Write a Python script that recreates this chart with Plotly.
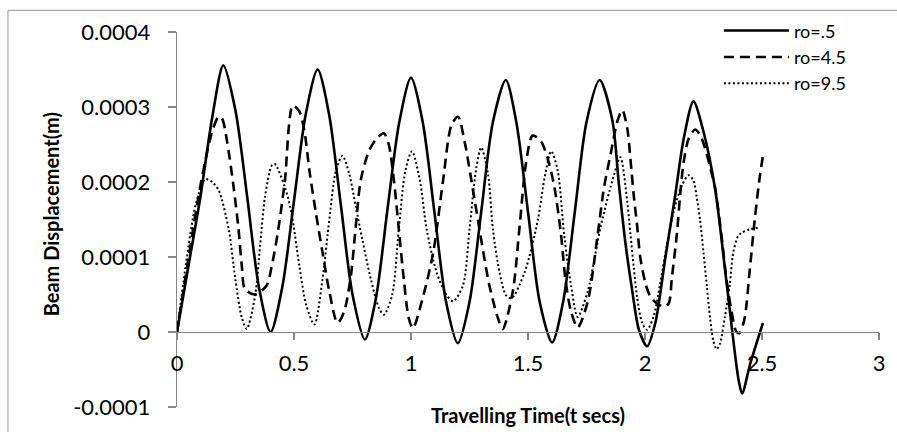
import plotly.graph_objects as go

# ---------------- data (values in 1e-4 m) ----------------
t_ro05 = [0, 0.05, 0.1, 0.15, 0.198, 0.25, 0.3, 0.35, 0.4, 0.45, 0.5, 0.55, 0.601,
          0.65, 0.7, 0.75, 0.803, 0.85, 0.9, 0.95, 1.0, 1.05, 1.1, 1.15, 1.2, 1.25,
          1.3, 1.35, 1.405, 1.45, 1.5, 1.55, 1.603, 1.65, 1.7, 1.75, 1.806, 1.86,
          1.889, 1.917, 1.945, 1.974, 2.009, 2.044, 2.087, 2.129, 2.165, 2.207,
          2.25, 2.3, 2.35, 2.4, 2.415, 2.45, 2.504]
y_ro05 = [0, 0.9, 1.8, 2.85, 3.555, 2.95, 1.8, 0.6, 0.0, 0.6, 1.75, 2.9, 3.5,
          2.9, 1.7, 0.5, -0.1, 0.45, 1.65, 2.8, 3.39, 2.8, 1.6, 0.4, -0.15, 0.4,
          1.6, 2.8, 3.36, 2.8, 1.6, 0.4, -0.14, 0.4, 1.6, 2.8, 3.36, 2.83,
          1.95, 1.17, 0.56, 0.03, -0.19, 0.12, 0.99, 1.82, 2.57, 3.075,
          2.67, 1.9, 0.62, -0.64, -0.82, -0.42, 0.12]

t_ro45 = [0, 0.05, 0.1, 0.15, 0.178, 0.192, 0.214, 0.242, 0.263, 0.277, 0.291,
          0.334, 0.383, 0.405, 0.433, 0.461, 0.495, 0.523, 0.545, 0.566, 0.594,
          0.622, 0.651, 0.686, 0.714, 0.743, 0.764, 0.785, 0.82, 0.856, 0.884,
          0.905, 0.927, 0.948, 0.969, 0.99, 1.008, 1.053, 1.095, 1.137, 1.173,
          1.201, 1.229, 1.265, 1.3, 1.335, 1.371, 1.392, 1.435, 1.463, 1.491,
          1.52, 1.556, 1.585, 1.613, 1.641, 1.66, 1.684, 1.712, 1.755, 1.797,
          1.825, 1.853, 1.882, 1.903, 1.924, 1.938, 1.952, 1.966, 1.98, 2.002,
          2.023, 2.051, 2.08, 2.101, 2.115, 2.136, 2.15, 2.165, 2.186, 2.214,
          2.235, 2.256, 2.278, 2.299, 2.327, 2.348, 2.37, 2.391, 2.405, 2.426,
          2.448, 2.469, 2.49, 2.504]
y_ro45 = [0, 1.0, 1.95, 2.67, 2.87, 2.85, 2.54, 1.93, 1.37, 0.88, 0.57,
          0.5, 0.62, 0.88, 1.37, 2.02, 3.02, 2.94, 2.67, 2.15, 1.58,
          1.06, 0.54, 0.12, 0.27, 0.75, 1.41, 2.02, 2.41, 2.59, 2.65,
          2.5, 2.02, 1.37, 0.71, 0.19, 0.05, 0.49, 1.06, 2.02, 2.76,
          2.87, 2.54, 1.89, 1.23, 0.62, 0.19, 0.04, 0.54, 1.37, 2.24,
          2.62, 2.54, 2.3, 1.93, 1.3, 0.7, 0.27, 0.06, 0.4, 1.28,
          1.93, 2.37, 2.81, 2.96, 2.72, 2.3, 1.82, 1.43, 0.99, 0.65,
          0.47, 0.38, 0.34, 0.38, 0.73, 1.3, 1.82, 2.26, 2.57, 2.7,
          2.63, 2.46, 2.2, 1.93, 1.28, 0.71, 0.27, 0.0, -0.01, 0.19,
          0.84, 1.5, 2.06, 2.35]

t_ro95 = [0, 0.037, 0.08, 0.121, 0.15, 0.178, 0.221, 0.249, 0.277, 0.298, 0.334,
          0.355, 0.376, 0.405, 0.418, 0.461, 0.489, 0.523, 0.552, 0.587, 0.622,
          0.651, 0.679, 0.707, 0.736, 0.764, 0.792, 0.828, 0.863, 0.884, 0.919,
          0.948, 0.976, 1.004, 1.038, 1.067, 1.109, 1.152, 1.18, 1.222, 1.25,
          1.279, 1.3, 1.329, 1.35, 1.378, 1.406, 1.43, 1.486, 1.542, 1.571,
          1.599, 1.627, 1.655, 1.684, 1.712, 1.755, 1.811, 1.868, 1.895, 1.924,
          1.938, 1.952, 1.966, 1.988, 2.009, 2.037, 2.065, 2.094, 2.122, 2.157,
          2.186, 2.207, 2.221, 2.235, 2.25, 2.264, 2.278, 2.292, 2.306, 2.32,
          2.341, 2.362, 2.377, 2.398, 2.412, 2.448, 2.49]
y_ro95 = [0, 0.88, 1.7, 2.04, 2.0, 1.89, 1.37, 0.71, 0.19, 0.04, 0.49,
          1.15, 1.8, 2.22, 2.24, 1.93, 1.59, 0.88, 0.36, 0.1, 0.71,
          1.5, 2.15, 2.35, 2.11, 1.67, 1.23, 0.71, 0.32, 0.23, 0.49,
          1.37, 2.15, 2.41, 2.02, 1.37, 0.8, 0.49, 0.41, 0.62, 1.37,
          2.19, 2.46, 2.11, 1.37, 0.8, 0.49, 0.45, 0.8, 1.49, 2.06,
          2.41, 2.15, 1.28, 0.62, 0.2, 0.54, 1.41, 2.1, 2.33, 1.74,
          1.3, 0.86, 0.47, 0.12, 0.03, 0.21, 0.65, 1.17, 1.6, 1.95,
          2.09, 2.02, 1.8, 1.5, 1.06, 0.62, 0.19, -0.12, -0.23, -0.16,
          0.19, 0.62, 1.06, 1.28, 1.32, 1.37, 1.39]

SCALE = 1e-4
series_names = ["ro=.5", "ro=4.5", "ro=9.5"]

x_ticks = [0, 0.5, 1, 1.5, 2, 2.5, 3]
x_ticktext = ["0", "0.5", "1", "1.5", "2", "2.5", "3"]
y_ticks = [-0.0001, 0, 0.0001, 0.0002, 0.0003, 0.0004]
y_ticktext = ["-0.0001", "0", "0.0001", "0.0002", "0.0003", "0.0004"]

x_title = "Travelling Time(t secs)"
y_title = "Beam Displacement(m)"

# ---------------- figure ----------------
FONT = "Lato, 'Open Sans', sans-serif"
AXIS_COL = "#868686"

fig = go.Figure()
styles = [
    dict(color="black", width=2.6, dash="solid"),
    dict(color="black", width=2.6, dash="10px,6px"),
    dict(color="black", width=2.0, dash="2px,2.5px"),
]
for name, tx, ty, st in zip(series_names, [t_ro05, t_ro45, t_ro95],
                            [y_ro05, y_ro45, y_ro95], styles):
    fig.add_trace(go.Scatter(
        x=tx, y=[v * SCALE for v in ty], mode="lines", name=name,
        line=dict(shape="spline", smoothing=0.8, **st),
        hoverinfo="skip",
    ))

L, R, T, B = 177, 14, 29, 21
W, H = 897, 432
pw, ph = W - L - R, H - T - B

def px_x(p):
    return (p - L) / pw

def px_y(p):
    return (H - B - p) / ph

fig.update_layout(
    width=W, height=H,
    margin=dict(l=L, r=R, t=T, b=B, pad=0),
    paper_bgcolor="white", plot_bgcolor="white",
    font=dict(family=FONT, size=22, color="black"),
    showlegend=True,
    legend=dict(
        x=px_x(722), y=px_y(9), xanchor="left", yanchor="top",
        font=dict(family=FONT, size=18, color="black"),
        bgcolor="rgba(0,0,0,0)", itemwidth=65, tracegroupgap=0,
    ),
    xaxis=dict(
        range=[0, 3], tickmode="array", tickvals=x_ticks, ticktext=x_ticktext,
        showgrid=False, zeroline=False, showline=True, linecolor=AXIS_COL,
        linewidth=1.3, ticks="outside", ticklen=7, tickcolor=AXIS_COL,
        tickwidth=1.3, anchor="free", position=0.2,
        tickfont=dict(family=FONT, size=22, color="black"),
        ticklabelstandoff=4,
    ),
    yaxis=dict(
        range=[-0.0001, 0.0004], tickmode="array", tickvals=y_ticks,
        ticktext=y_ticktext, showgrid=False, zeroline=False, showline=True,
        linecolor=AXIS_COL, linewidth=1.3, ticks="outside", ticklen=8,
        tickcolor=AXIS_COL, tickwidth=1.3,
        tickfont=dict(family=FONT, size=22, color="black"),
        ticklabelstandoff=13,
    ),
    annotations=[
        dict(text="<b>" + x_title + "</b>", xref="paper", yref="paper",
             x=0.5, y=px_y(419), xanchor="center", yanchor="middle",
             showarrow=False, font=dict(family=FONT, size=20, color="black")),
        dict(text="<b>" + y_title + "</b>", xref="paper", yref="paper",
             x=px_x(50), y=px_y(215), xanchor="center", yanchor="middle",
             textangle=-90, showarrow=False,
             font=dict(family=FONT, size=20, color="black")),
    ],
    shapes=[
        dict(type="line", xref="paper", yref="paper", x0=px_x(7), y0=px_y(7),
             x1=px_x(905), y1=px_y(7), line=dict(color="#A6A6A6", width=1.2)),
        dict(type="line", xref="paper", yref="paper", x0=px_x(7), y0=px_y(7),
             x1=px_x(7), y1=px_y(440), line=dict(color="#A6A6A6", width=1.2)),
    ],
)

fig.write_html(
    "out.html",
    config={"displayModeBar": False, "staticPlot": True},
    post_script="document.body.style.margin='0';document.body.style.overflow='hidden';",
)
